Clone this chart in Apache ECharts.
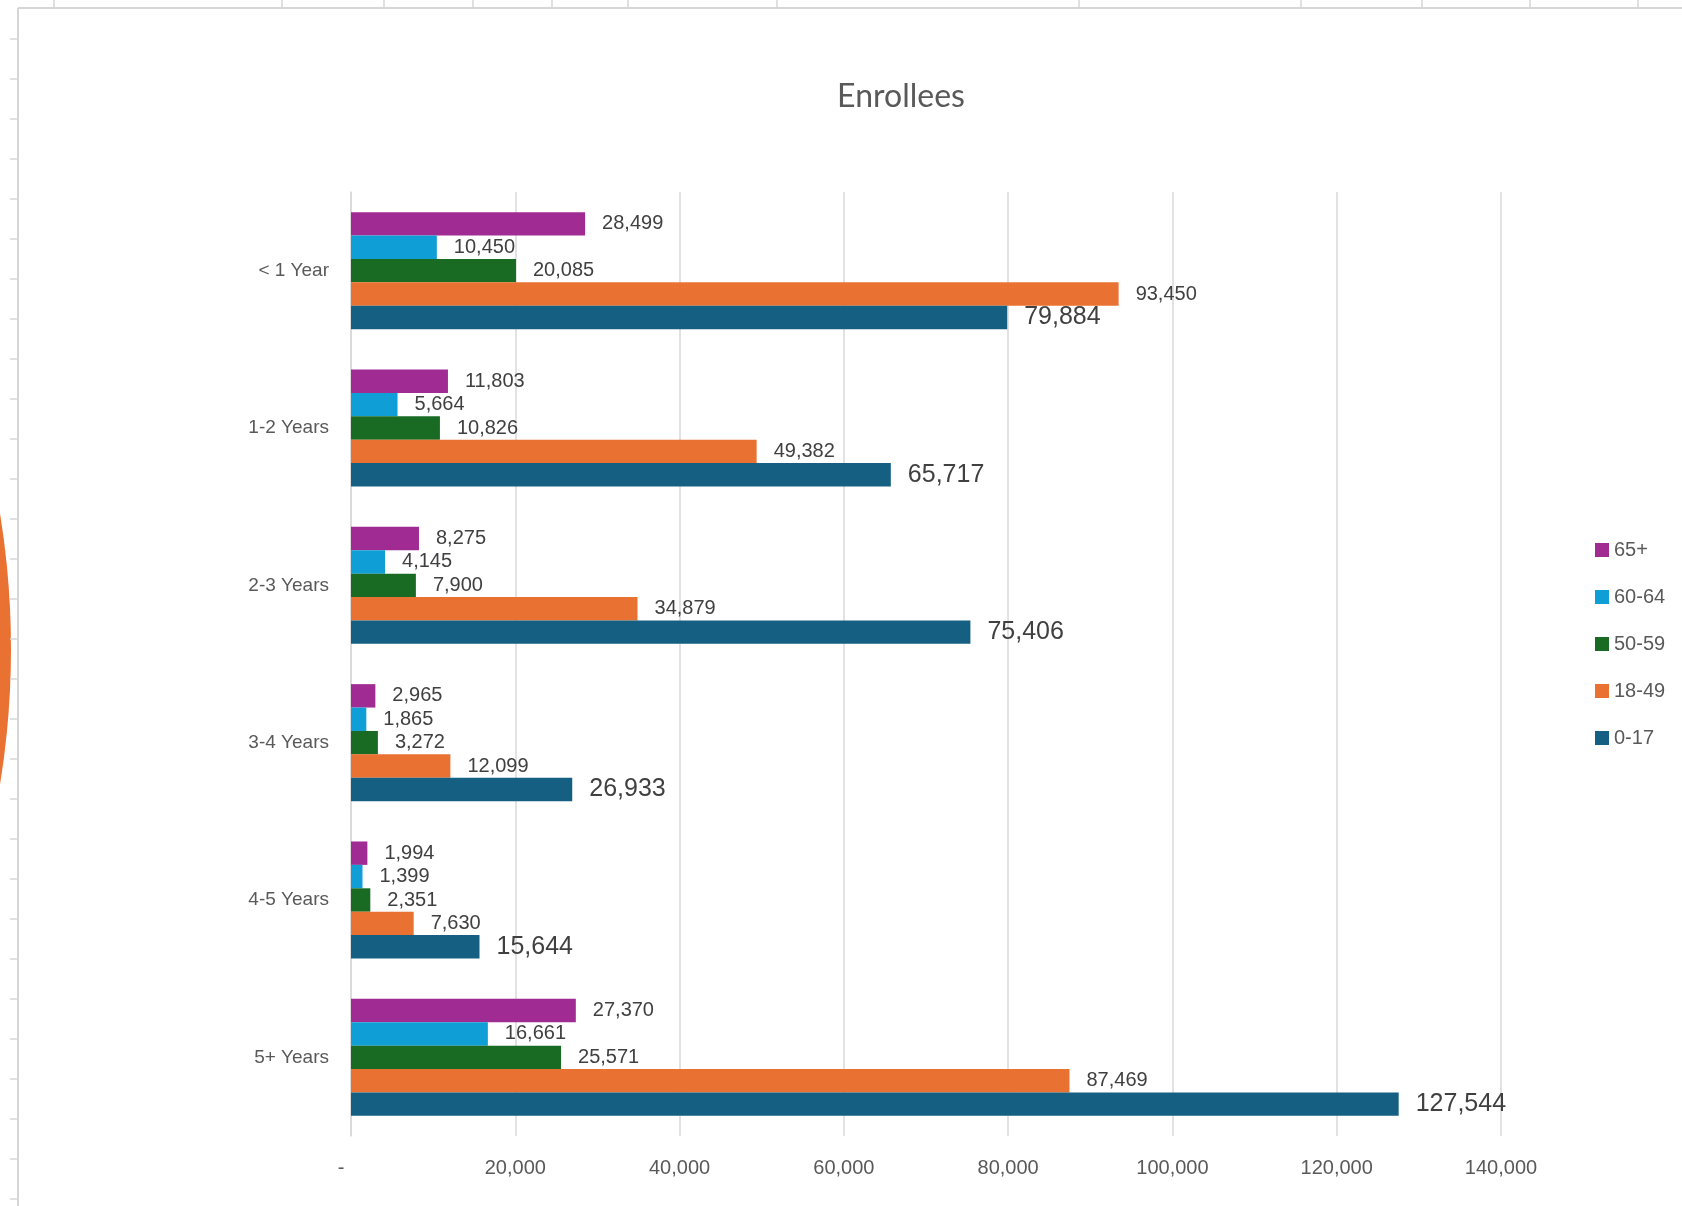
<!DOCTYPE html>
<html>
<head>
<meta charset="utf-8">
<script src="https://cdn.jsdelivr.net/npm/echarts@6/dist/echarts.min.js"></script>
<style>
html,body{margin:0;padding:0;background:#fff;}
#c{width:1682px;height:1206px;}
</style>
</head>
<body>
<div id="c"></div>
<script>
const categories = ['< 1 Year', '1-2 Years', '2-3 Years', '3-4 Years', '4-5 Years', '5+ Years'];
const seriesNames = ['65+', '60-64', '50-59', '18-49', '0-17'];
const age65plus = [28499, 11803, 8275, 2965, 1994, 27370];
const age60to64 = [10450, 5664, 4145, 1865, 1399, 16661];
const age50to59 = [20085, 10826, 7900, 3272, 2351, 25571];
const age18to49 = [93450, 49382, 34879, 12099, 7630, 87469];
const age0to17 = [79884, 65717, 75406, 26933, 15644, 127544];
const xTicks = {min: 0, max: 140000, interval: 20000};

const colors = ['#A02B93', '#0F9ED5', '#196B24', '#E97132', '#156082'];
const values = [age65plus, age60to64, age50to59, age18to49, age0to17];
const fmt = v => v.toLocaleString('en-US');
const FONT = '"Liberation Sans", Arial, sans-serif';

const chart = echarts.init(document.getElementById('c'), null, {renderer: 'canvas'});

// spreadsheet frame decoration
const graphic = [];
graphic.push({type: 'line', shape: {x1: 18, y1: 8, x2: 1682, y2: 8}, style: {stroke: '#d6d6d6', lineWidth: 2}, silent: true});
graphic.push({type: 'line', shape: {x1: 18, y1: 8, x2: 18, y2: 1206}, style: {stroke: '#d6d6d6', lineWidth: 2}, silent: true});
[54, 282, 384, 473, 552, 628, 777, 1079, 1301, 1422, 1530, 1638].forEach(x => {
  graphic.push({type: 'line', shape: {x1: x, y1: 0, x2: x, y2: 8}, style: {stroke: '#d6d6d6', lineWidth: 1.5}, silent: true});
});
for (let y = 39; y < 1206; y += 40) {
  graphic.push({type: 'line', shape: {x1: 10, y1: y, x2: 17, y2: y}, style: {stroke: '#d6d6d6', lineWidth: 1.5}, silent: true});
}
graphic.push({type: 'circle', shape: {cx: -833, cy: 649, r: 844}, style: {fill: '#E97132'}, silent: true, z: -1});

chart.setOption({
  backgroundColor: '#ffffff',
  animation: false,
  title: {
    text: 'Enrollees',
    left: 896,
    top: 76,
    textAlign: 'center',
    textStyle: {fontFamily: 'Lato, "Noto Sans", sans-serif', fontSize: 32, fontWeight: 'normal', color: '#595959'}
  },
  legend: {
    data: seriesNames,
    orient: 'vertical',
    left: 1590,
    top: 535,
    itemWidth: 14,
    itemHeight: 14,
    itemGap: 27,
    icon: 'rect',
    textStyle: {fontFamily: FONT, fontSize: 20, color: '#595959'}
  },
  grid: {left: 351, right: 181, top: 192, bottom: 70, containLabel: false},
  xAxis: {
    type: 'value',
    min: xTicks.min,
    max: xTicks.max,
    interval: xTicks.interval,
    axisLine: {show: false},
    axisTick: {show: false},
    splitLine: {show: true, lineStyle: {color: '#d9d9d9', width: 1.5}},
    axisLabel: {
      margin: 22,
      fontFamily: FONT, fontSize: 20, color: '#595959',
      formatter: v => v === 0 ? '-\u2003' : fmt(v)
    }
  },
  yAxis: {
    type: 'category',
    data: categories,
    inverse: true,
    axisLine: {show: true, lineStyle: {color: '#d9d9d9', width: 1.5}},
    axisTick: {show: false},
    axisLabel: {margin: 22, fontFamily: FONT, fontSize: 19, color: '#595959'}
  },
  series: seriesNames.map((name, i) => ({
    name: name,
    type: 'bar',
    data: values[i],
    barGap: '0%',
    barCategoryGap: '25.6%',
    itemStyle: {color: colors[i]},
    label: {
      show: true,
      position: 'right',
      distance: 17,
      formatter: p => fmt(p.value),
      fontFamily: FONT,
      fontSize: i === 4 ? 25 : 20,
      color: '#404040'
    }
  })),
  graphic: graphic
});
</script>
</body>
</html>
